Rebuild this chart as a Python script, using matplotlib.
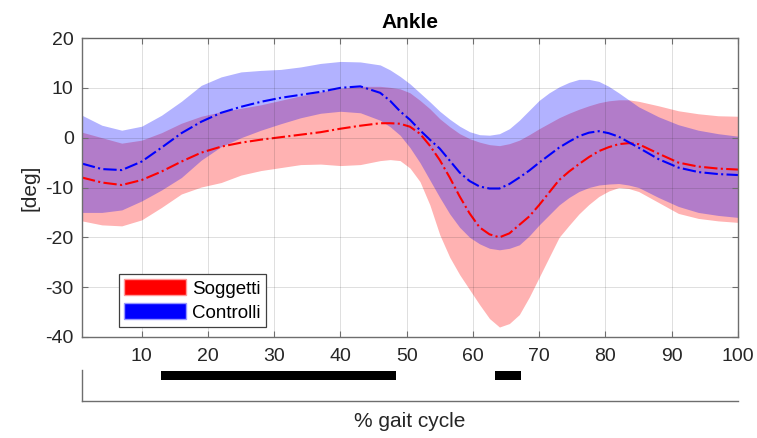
import numpy as np
import matplotlib
matplotlib.use("Agg")
import matplotlib.pyplot as plt
import matplotlib.patches as mpatches

plt.rcParams["font.family"] = ["Liberation Sans", "DejaVu Sans"]
plt.rcParams["axes.unicode_minus"] = False

# % gait cycle sample points
gait = [1, 4, 7, 10, 13, 16, 19, 22, 25, 28, 31, 34, 37, 40, 43, 46,
        47.5, 49, 50.5, 52, 53.5, 55, 56.5, 58, 59.5, 61, 62.5, 64, 65.5, 67,
        68.5, 70, 71.5, 73, 74.5, 76, 77.5, 79, 80.5, 82, 83.5, 85,
        88, 91, 94, 97, 100]

# Soggetti (red): mean, upper and lower band
sog_mean = [-8.0, -9.0, -9.5, -8.5, -6.8, -4.8, -3.0, -1.8, -1.0, -0.4, 0.1, 0.6,
            1.1, 1.8, 2.4, 2.9,
            2.9, 2.8, 2.2, 0.8, -1.6, -4.5, -8.0, -11.8, -15.2, -18.0, -19.4,
            -20.0, -19.2, -17.5, -15.8, -13.5, -11.0, -8.5, -6.8, -5.3, -3.9,
            -2.7, -1.9, -1.3, -1.1, -1.3,
            -3.2, -5.0, -5.8, -6.2, -6.4]
sog_hi = [1.1, 0.0, -1.1, -0.5, 1.0, 2.9, 4.3, 5.2, 5.9, 6.6, 7.5, 8.4, 9.2, 9.9,
          10.3, 10.3,
          10.1, 9.8, 9.0, 7.5, 5.8, 3.8, 2.2, 0.8, -0.2, -0.9, -1.4, -1.6, -1.2,
          -0.5, 0.6, 1.8, 2.9, 4.0, 4.9, 5.7, 6.4, 7.0, 7.4, 7.6, 7.6, 7.3,
          6.4, 5.4, 4.8, 4.4, 4.3]
sog_lo = [-16.7, -17.5, -17.7, -16.5, -14.0, -11.3, -9.9, -9.0, -7.5, -6.6, -6.0,
          -5.4, -5.3, -5.6, -5.4, -4.6,
          -4.4, -4.6, -6.1, -8.8, -13.5, -19.5, -24.0, -27.5, -30.5, -33.5,
          -36.3, -38.0, -37.3, -35.5, -32.0, -28.0, -24.0, -20.0, -17.6, -15.3,
          -13.4, -11.8, -10.7, -10.0, -10.2, -10.8,
          -13.0, -15.2, -16.2, -16.7, -17.0]

# Controlli (blue): mean, upper and lower band
con_mean = [-5.2, -6.3, -6.5, -4.8, -2.0, 0.9, 3.2, 5.0, 6.2, 7.2, 8.0, 8.6, 9.2,
            10.0, 10.3, 9.0,
            7.4, 5.3, 3.6, 1.5, -0.4, -2.2, -4.6, -7.0, -8.7, -9.8, -10.2, -10.2,
            -9.3, -8.0, -6.6, -5.0, -3.5, -2.0, -0.8, 0.3, 1.0, 1.3, 0.9, 0.2,
            -0.9, -2.0,
            -4.3, -6.0, -6.9, -7.3, -7.5]
con_hi = [4.5, 2.5, 1.5, 2.3, 4.5, 7.3, 10.5, 12.2, 13.2, 13.5, 13.7, 14.2, 14.9,
          15.3, 15.2, 14.6,
          13.6, 12.3, 10.8, 9.0, 7.2, 5.3, 3.7, 2.3, 1.2, 0.6, 0.5, 0.8, 1.8, 3.5,
          5.5, 7.5, 9.0, 10.2, 11.1, 11.7, 11.7, 11.3, 10.3, 9.0, 7.6, 6.2,
          4.2, 2.6, 1.5, 0.8, 0.3]
con_lo = [-15.0, -15.0, -14.5, -12.7, -10.5, -8.0, -4.5, -1.8, 0.0, 1.5, 2.8, 4.0,
          4.9, 5.3, 5.0, 3.5,
          2.2, 0.5, -2.0, -5.0, -8.5, -12.0, -15.3, -18.0, -20.0, -21.3, -22.2,
          -22.5, -22.2, -21.5, -19.7, -17.5, -15.5, -13.5, -12.0, -10.8, -10.0,
          -9.5, -9.3, -9.2, -9.5, -10.0,
          -12.0, -13.8, -15.0, -15.6, -16.0]

# significant intervals (start, end) in % gait cycle
sig_start = [12.9, 63.4]
sig_end = [48.4, 67.2]

labels = ["Soggetti", "Controlli"]
AX_COL = "#6e6e6e"
TXT_COL = "#262626"

fig = plt.figure(figsize=(7.57, 4.38), dpi=100)
ax = fig.add_axes([0.1083, 0.2306, 0.8666, 0.6826])

ax.fill_between(gait, sog_lo, sog_hi, color="red", alpha=0.3, linewidth=0)
ax.fill_between(gait, con_lo, con_hi, color="blue", alpha=0.3, linewidth=0)
ax.plot(gait, sog_mean, color="red", linestyle="-.", linewidth=1.5)
ax.plot(gait, con_mean, color="blue", linestyle="-.", linewidth=1.5)

ax.set_xlim(1, 100)
ax.set_ylim(-40, 20)
ax.set_xticks(np.arange(10, 101, 10))
ax.set_yticks(np.arange(-40, 21, 10))
ax.grid(True, color="#262626", alpha=0.15, linewidth=0.7)
ax.set_axisbelow(False)
ax.tick_params(direction="in", top=True, right=True, length=4, width=0.8,
               color=AX_COL, labelsize=14, labelcolor=TXT_COL)
ax.tick_params(axis="x", pad=8)
ax.tick_params(axis="y", pad=6)
for sp in ax.spines.values():
    sp.set_edgecolor(AX_COL)
    sp.set_linewidth(1.0)

ax.set_title("Ankle", fontsize=15, fontweight="bold", pad=7)
ax.set_ylabel("[deg]", fontsize=15, color=TXT_COL, labelpad=4)

handles = [mpatches.Patch(facecolor="red", edgecolor="#ff9999", linewidth=1),
           mpatches.Patch(facecolor="blue", edgecolor="#9999ff", linewidth=1)]
leg = ax.legend(handles, labels, loc="lower left", bbox_to_anchor=(0.056, 0.033),
                borderaxespad=0, fontsize=13.5, fancybox=False, framealpha=1,
                edgecolor="#404040", handlelength=3.3, handleheight=0.9,
                handletextpad=0.3, labelspacing=0.3, borderpad=0.3)
leg.get_frame().set_linewidth(0.9)

# lower strip with the significant-difference bars
ax2 = fig.add_axes([0.1083, 0.0845, 0.8666, 0.0708])
ax2.set_xlim(1, 100)
ax2.set_ylim(0, 1)
for s, e in zip(sig_start, sig_end):
    ax2.barh(0.82, e - s, left=s, height=0.29, color="black")
ax2.set_xticks([])
ax2.set_yticks([])
ax2.spines["top"].set_visible(False)
ax2.spines["right"].set_visible(False)
for sp in ("left", "bottom"):
    ax2.spines[sp].set_edgecolor(AX_COL)
    ax2.spines[sp].set_linewidth(1.0)
ax2.set_xlabel("% gait cycle", fontsize=15, color=TXT_COL, labelpad=8)

fig.savefig("out.png", dpi=100)
